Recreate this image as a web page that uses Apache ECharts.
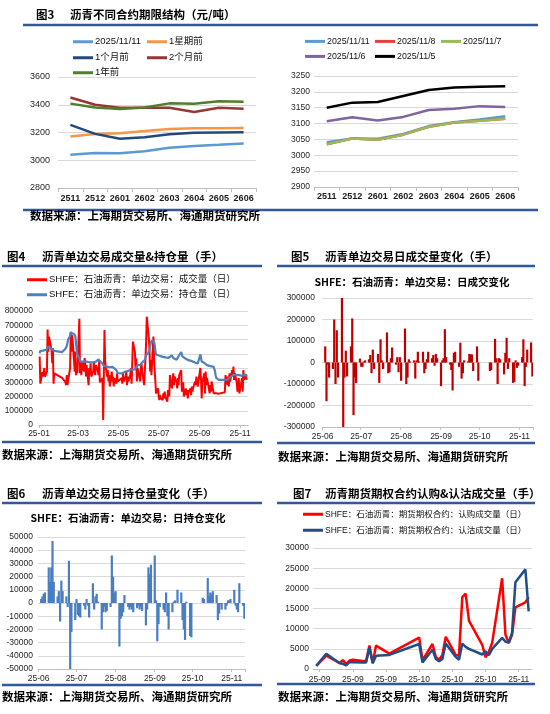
<!DOCTYPE html>
<html><head><meta charset="utf-8">
<script src="https://cdn.jsdelivr.net/npm/echarts@6.0.0/dist/echarts.min.js"></script>
<style>html,body{margin:0;padding:0;background:#fff}#c{width:550px;height:714px}</style>
</head><body><div id="c"></div>
<script>
// ---------- Fig 3: term structure ----------
const fig3Contracts = ['2511','2512','2601','2602','2603','2604','2605','2606'];
const fig3Latest = [3040, 3052, 3050, 3065, 3090, 3102, 3111, 3121];
const fig3WeekAgo = [3172, 3190, 3195, 3210, 3226, 3230, 3231, 3232];
const fig3MonthAgo = [3255, 3190, 3155, 3165, 3188, 3198, 3200, 3202];
const fig3TwoMonthsAgo = [3452, 3400, 3378, 3378, 3378, 3348, 3378, 3372];
const fig3YearAgo = [3408, 3380, 3370, 3380, 3410, 3408, 3425, 3422];
const fig3bNov11 = [3041, 3053, 3052, 3067, 3092, 3104, 3113, 3123];
const fig3bNov8 = [3035, 3053, 3049, 3065, 3090, 3103, 3109, 3115];
const fig3bNov7 = [3035, 3053, 3049, 3065, 3090, 3103, 3109, 3115];
const fig3bNov6 = [3107, 3120, 3110, 3121, 3143, 3147, 3155, 3152];
const fig3bNov5 = [3150, 3166, 3168, 3187, 3206, 3214, 3216, 3218];

// ---------- trading calendar ----------
const holidays = ['2025-01-01','2025-01-28','2025-01-29','2025-01-30','2025-01-31','2025-02-03','2025-02-04','2025-04-04','2025-05-01','2025-05-02','2025-05-05','2025-06-02','2025-10-01','2025-10-02','2025-10-03','2025-10-06','2025-10-07','2025-10-08'];

// ---------- Fig 4: volume & open interest (per month, trading days) ----------
const fig4Months = ['2025-01','2025-02','2025-03','2025-04','2025-05','2025-06','2025-07','2025-08','2025-09','2025-10','2025-11'];
const fig4Volume = [
 [480000,290000,370000,340000,330000,400000,340000,375000,670000,515000,620000,600000,525000,433000,540000,290000,363000,350000],
 [330000,340000,316000,300000,280000,350000,280000,290000,400000,655000,515000,630000,585000,375000,515000,350000,420000,363000],
 [745000,363000,420000,350000,445000,375000,470000,433000,340000,420000,280000,400000,363000,433000,340000,375000,445000,400000,350000,420000,380000],
 [350000,456000,300000,330000,35000,330000,667000,445000,340000,385000,305000,350000,270000,375000,305000,340000,270000,330000,290000,363000,305000],
 [330000,290000,363000,305000,340000,375000,280000,340000,305000,350000,400000,290000,433000,585000,515000,385000,468000,305000,400000],
 [305000,400000,433000,375000,280000,380000,468000,590000,760000,608000,540000,375000,456000,350000,620000,468000,375000,300000,222000,257000],
 [200000,175000,210000,190000,175000,222000,187000,234000,200000,164000,245000,230000,200000,350000,257000,300000,363000,280000,340000,300000,257000,330000,280000],
 [350000,385000,234000,270000,300000,200000,257000,210000,245000,187000,230000,257000,210000,270000,234000,260000,305000,280000,340000,300000,270000],
 [270000,400000,316000,187000,300000,363000,222000,375000,280000,330000,250000,222000,280000,234000,305000,222000,230000,222000,228000,222000,225000,220000],
 [230000,350000,280000,340000,270000,363000,305000,385000,340000,410000,316000,363000,300000,234000,270000,330000,222000],
 [222000,330000,234000,385000,316000,350000,316000]
];
const fig4OpenInterest = [
 [503000,520000,526000,522000,515000,512000,518000,530000,550000,545000,540000,538000,535000,530000,525000,522000,520000,518000],
 [512000,515000,520000,535000,548000,555000,575000,600000,625000,650000,658000,640000,655000,635000,620000,580000,520000,495000],
 [467000,455000,445000,440000,442000,445000,440000,438000,440000,445000,442000,440000,438000,442000,445000,440000,438000,436000,440000,445000,450000],
 [460000,468000,455000,430000,420000,415000,412000,410000,410000,412000,408000,410000,405000,410000,408000,405000,400000,395000,385000,375000,365000],
 [362000,365000,360000,370000,375000,372000,368000,375000,380000,385000,388000,392000,398000,392000,390000,395000,405000,415000,420000],
 [420000,425000,433000,440000,445000,455000,470000,490000,500000,510000,530000,550000,575000,590000,597000,585000,560000,520000,495000,490000],
 [488000,485000,482000,480000,478000,476000,475000,478000,475000,472000,470000,472000,476000,480000,488000,482000,470000,465000,460000,458000,456000,455000,458000],
 [490000,512000,500000,480000,470000,468000,465000,462000,460000,458000,455000,452000,450000,448000,445000,440000,438000,436000,434000,433000,432000],
 [440000,496000,470000,445000,440000,435000,430000,425000,422000,420000,418000,415000,412000,410000,410000,408000,400000,380000,350000,330000,320000,316000],
 [316000,316000,318000,316000,320000,325000,335000,345000,350000,358000,362000,360000,352000,350000,348000,345000,350000],
 [350000,345000,348000,352000,350000,355000,340000]
];
const fig4Ticks = ['2025-01-01','2025-03-01','2025-05-01','2025-07-01','2025-09-01','2025-11-01'];

// ---------- Fig 5 / Fig 6: daily changes ----------
const fig56Months = ['2025-06','2025-07','2025-08','2025-09','2025-10','2025-11'];
const fig5VolumeChange = [
 [75000,-180000,-10000,-70000,-30000,200000,-100000,150000,-70000,300000,-300000,-70000,55000,-65000,75000,205000,-245000,-70000,-95000,18000],
 [-20000,-20000,5000,10000,15000,35000,-50000,60000,-30000,40000,-95000,108000,10000,-30000,140000,-50000,-45000,20000,70000,-10000,25000,-45000,25000],
 [-85000,158000,-100000,-70000,15000,5000,10000,-75000,10000,50000,5000,50000,-50000,-30000,15000,50000,20000,35000,-15000,40000,20000],
 [-110000,10000,20000,155000,25000,-10000,-35000,-130000,45000,50000,-20000,92000,-75000,-50000,10000,5000,40000,38000,38000,-40000,75000,-85000],
 [-40000,-35000,110000,20000,-100000,20000,15000,-55000,45000,115000,-30000,20000,-95000,-90000,10000,-25000,-15000],
 [25000,108000,-110000,-20000,60000,93000,-65000]
];
const fig6OIChange = [
 [3000,5000,7000,8000,27000,16000,27000,47000,16000,5000,9000,-14000,17000,9000,5000,-3000,32000,-50000,-22000,-13000],
 [3000,-9000,-10000,-11000,-2000,-5000,3000,-2000,-11000,15000,-5000,5000,7000,1000,-20000,-7000,-3000,-7000,-6000,-3000,36000,20000,8000],
 [9000,-33000,-12000,-10000,-7000,6000,-3000,-5000,-3000,-5000,-7000,-4000,-2000,-5000,-3000,-6000,-17000,-5000,27000,22000,29000],
 [36000,2000,-29000,-16000,-3000,-5000,-7000,8000,-10000,-20000,-7000,1000,2000,0,10000,8000,-13000,-20000,-28000,1000,-25000,-26000],
 [4000,3000,19000,5000,8000,7000,9000,6000,-13000,-8000,-1000,-5000,-5000,-2000,2000,2000,3000],
 [10000,-2000,-5000,-7000,15000,-2000,-12000]
];
const fig56Ticks = ['2025-06-01','2025-07-01','2025-08-01','2025-09-01','2025-10-01','2025-11-01'];

// ---------- Fig 7: options call/put volume ----------
const fig7Dates = ['2025-09-08','2025-09-11','2025-09-15','2025-09-16','2025-09-17','2025-09-18','2025-09-19','2025-09-22','2025-09-23','2025-09-24','2025-09-25','2025-09-26','2025-09-30','2025-10-09','2025-10-10','2025-10-13','2025-10-14','2025-10-15','2025-10-16','2025-10-17','2025-10-20','2025-10-21','2025-10-22','2025-10-23','2025-10-24','2025-10-28','2025-10-29','2025-10-30','2025-10-31','2025-11-03','2025-11-04','2025-11-05','2025-11-06','2025-11-07','2025-11-10','2025-11-11'];
const fig7Call = [800,3300,1500,2200,1200,2100,2300,2000,2000,5800,1500,5800,3800,7800,2200,6200,3000,2300,3500,8000,3500,3300,17800,18700,12000,6000,2900,4300,6500,22500,8500,6500,8500,15300,16500,17800];
const fig7Put = [800,3800,1400,1300,900,1700,1700,1600,1600,5200,1400,3300,3500,6200,1600,4800,2500,1900,2500,6300,3000,2300,6300,5500,5000,3600,4400,3400,5000,7700,6800,6500,9000,21500,24700,14300];
const fig7Ticks = ['2025-09-09','2025-09-19','2025-09-29','2025-10-09','2025-10-19','2025-10-29','2025-11-08'];

// ---------- helpers ----------
function fmt(d){return d.getUTCFullYear()+'-'+String(d.getUTCMonth()+1).padStart(2,'0')+'-'+String(d.getUTCDate()).padStart(2,'0');}
function calendar(a,b){const out=[];let d=new Date(a+'T00:00:00Z');const e=new Date(b+'T00:00:00Z');while(d<=e){out.push(fmt(d));d=new Date(d.getTime()+86400000);}return out;}
function isTrading(s){const w=new Date(s+'T00:00:00Z').getUTCDay();return w!==0&&w!==6&&holidays.indexOf(s)<0;}
function byMonth(days,months,vals){const m={};months.forEach((mo,i)=>{days.filter(d=>d.indexOf(mo)===0&&isTrading(d)).forEach((d,j)=>{if(j<vals[i].length)m[d]=vals[i][j];});});return days.map(d=>(d in m)?m[d]:null);}
function byDate(days,dates,vals){return days.map(d=>{const i=dates.indexOf(d);return i<0?null:vals[i];});}

const fig4Days = calendar('2025-01-01','2025-11-13');
const fig56Days = calendar('2025-06-01','2025-11-11');
const fig7Days = calendar('2025-09-07','2025-11-12');

const FONT = "'Liberation Sans','Noto Sans CJK SC',sans-serif";
const CJK = "'Noto Sans CJK SC','Liberation Sans',sans-serif";
const BLUE_BAR = '#30589A';
const split = {show:true,lineStyle:{color:'#D9D9D9',width:1}};
const axLine = {show:true,onZero:false,lineStyle:{color:'#BFBFBF',width:1}};

function lbl(extra){return Object.assign({color:'#262626',fontSize:8.5,fontFamily:FONT},extra||{});}
function yAx(g,min,max,iv,margin,fs){return {gridIndex:g,type:'value',min:min,max:max,interval:iv,axisLine:{show:false},axisTick:{show:false},splitLine:split,axisLabel:lbl({margin:margin,fontSize:fs||8.5,formatter:v=>String(v)})};}
function dateX(g,days,ticks,gap,margin){const f=(i,v)=>ticks.indexOf(v)>=0;return {gridIndex:g,type:'category',data:days,boundaryGap:gap,axisLine:axLine,axisTick:{show:true,interval:f,length:3,lineStyle:{color:'#BFBFBF'}},axisLabel:lbl({interval:f,formatter:v=>v.slice(2,7),margin:margin})};}
function catX(g,margin){return {gridIndex:g,type:'category',data:fig3Contracts,boundaryGap:true,axisLine:axLine,axisTick:{show:true,length:4,interval:0,lineStyle:{color:'#BFBFBF'}},axisLabel:lbl({fontSize:9,margin:margin,color:'#1a1a1a',interval:0,fontWeight:'bold'})};}
function line(name,x,data,color,w){return {name:name,type:'line',xAxisIndex:x,yAxisIndex:x,data:data,symbol:'none',connectNulls:true,itemStyle:{color:color},lineStyle:{color:color,width:w||2.5},emphasis:{disabled:true}};}
function lg(name,left,top,fs){return {data:[name],left:left,top:top,padding:0,itemWidth:20,itemHeight:3,icon:'rect',itemGap:3,selectedMode:false,textStyle:{fontSize:fs,color:'#111',fontFamily:FONT,padding:[0,0,0,-3]}};}
function txt(s,x,y,fs,bold,align){return {type:'text',x:x,y:y,silent:true,style:{text:s,fill:'#000',fontSize:fs,fontWeight:bold?'bold':'normal',fontFamily:CJK,textAlign:align||'left',textVerticalAlign:'middle',verticalAlign:'middle'}};}
function hr(x1,x2,y){return {type:'line',silent:true,shape:{x1:x1,y1:y,x2:x2,y2:y},style:{stroke:BLUE_BAR,lineWidth:2.5}};}

const SRC = '数据来源：上海期货交易所、海通期货研究所';
const n4a='SHFE：石油沥青：单边交易：成交量（日）', n4b='SHFE：石油沥青：单边交易：持仓量（日）';
const n7a='SHFE：石油沥青：期货期权合约：认购成交量（日）', n7b='SHFE：石油沥青：期货期权合约：认沽成交量（日）';

const option = {
  animation:false,
  backgroundColor:'#fff',
  textStyle:{fontFamily:FONT},
  grid:[
    {left:58,top:77,width:198,height:111},
    {left:314,top:76,width:204,height:111},
    {left:39,top:311,width:209,height:114},
    {left:322,top:298,width:211,height:129},
    {left:38,top:537,width:207,height:132},
    {left:313,top:548,width:219,height:121}
  ],
  xAxis:[
    catX(0,6), catX(1,5),
    dateX(2,fig4Days,fig4Ticks,false,4),
    dateX(3,fig56Days,fig56Ticks,true,5),
    dateX(4,fig56Days,fig56Ticks,true,5),
    dateX(5,fig7Days,fig7Ticks,false,6)
  ],
  yAxis:[
    yAx(0,2800,3600,200,8,9),
    yAx(1,2900,3250,50,4,8.5),
    yAx(2,0,800000,100000,6),
    yAx(3,-300000,300000,100000,7),
    yAx(4,-50000,50000,10000,5),
    yAx(5,0,30000,5000,4)
  ],
  legend:[
    lg('2025/11/11',73,37,9.5), lg('1星期前',147,37,9.5),
    lg('1个月前',73,53,9.5), lg('2个月前',147,53,9.5), lg('1年前',73,68,9.5),
    lg('2025/11/11',305,37,8.8), lg('2025/11/8',375,37,8.8), lg('2025/11/7',441,37,8.8),
    lg('2025/11/6',305,52,8.8), lg('2025/11/5',375,52,8.8),
    lg(n4a,27,275,9.5), lg(n4b,27,290,9.5),
    lg(n7a,303,510,8.5), lg(n7b,303,526,8.5)
  ],
  series:[
    line('2025/11/11',0,fig3Latest,'#5B9BD5'),
    line('1星期前',0,fig3WeekAgo,'#F79646'),
    line('1个月前',0,fig3MonthAgo,'#244A7C'),
    line('2个月前',0,fig3TwoMonthsAgo,'#953735'),
    line('1年前',0,fig3YearAgo,'#4F7F2A'),
    line('2025/11/11',1,fig3bNov11,'#5B9BD5'),
    line('2025/11/8',1,fig3bNov8,'#E5413B'),
    line('2025/11/7',1,fig3bNov7,'#9BBB59'),
    line('2025/11/6',1,fig3bNov6,'#8064A2'),
    line('2025/11/5',1,fig3bNov5,'#000000'),
    line(n4a,2,byMonth(fig4Days,fig4Months,fig4Volume),'#FF0000',2),
    line(n4b,2,byMonth(fig4Days,fig4Months,fig4OpenInterest),'#4F81BD',2.2),
    {type:'bar',xAxisIndex:3,yAxisIndex:3,data:byMonth(fig56Days,fig56Months,fig5VolumeChange),barWidth:2.2,itemStyle:{color:'#C00000'}},
    {type:'bar',xAxisIndex:4,yAxisIndex:4,data:byMonth(fig56Days,fig56Months,fig6OIChange),barWidth:2.2,itemStyle:{color:'#4A7EC1'}},
    line(n7a,5,byDate(fig7Days,fig7Dates,fig7Call),'#FF0000',2.5),
    line(n7b,5,byDate(fig7Days,fig7Dates,fig7Put),'#1F4E89',2.5)
  ],
  graphic:[
    txt('图3',36,15,11.5,true), txt('沥青不同合约期限结构（元/吨）',70,15,11.5,true),
    hr(23,538,25), hr(23,538,210), txt(SRC,30,216,11.5,true),
    txt('图4',7,257,11.5,true), txt('沥青单边交易成交量&持仓量（手）',42,257,11.5,true),
    hr(2,262,266), hr(2,262,442), txt(SRC,2,455,11.5,true),
    txt('图5',291,257,11.5,true), txt('沥青单边交易日成交量变化（手）',325,257,11.5,true),
    hr(277,535,266), hr(277,535,443), txt(SRC,278,457,11.5,true),
    txt('SHFE：石油沥青：单边交易：日成交变化',412,282,10.5,true,'center'),
    txt('图6',7,494,11.5,true), txt('沥青单边交易日持仓量变化（手）',42,494,11.5,true),
    hr(2,262,503), hr(2,262,685), txt(SRC,2,697,11.5,true),
    txt('SHFE：石油沥青：单边交易：日持仓变化',128,518,10.5,true,'center'),
    txt('图7',293,494,11.5,true), txt('沥青期货期权合约认购&认沽成交量（手）',325,494,11.5,true),
    hr(277,535,503), hr(277,535,684), txt(SRC,278,697,11.5,true)
  ]
};
const chart = echarts.init(document.getElementById('c'),null,{renderer:'canvas'});
chart.setOption(option);
</script></body></html>
